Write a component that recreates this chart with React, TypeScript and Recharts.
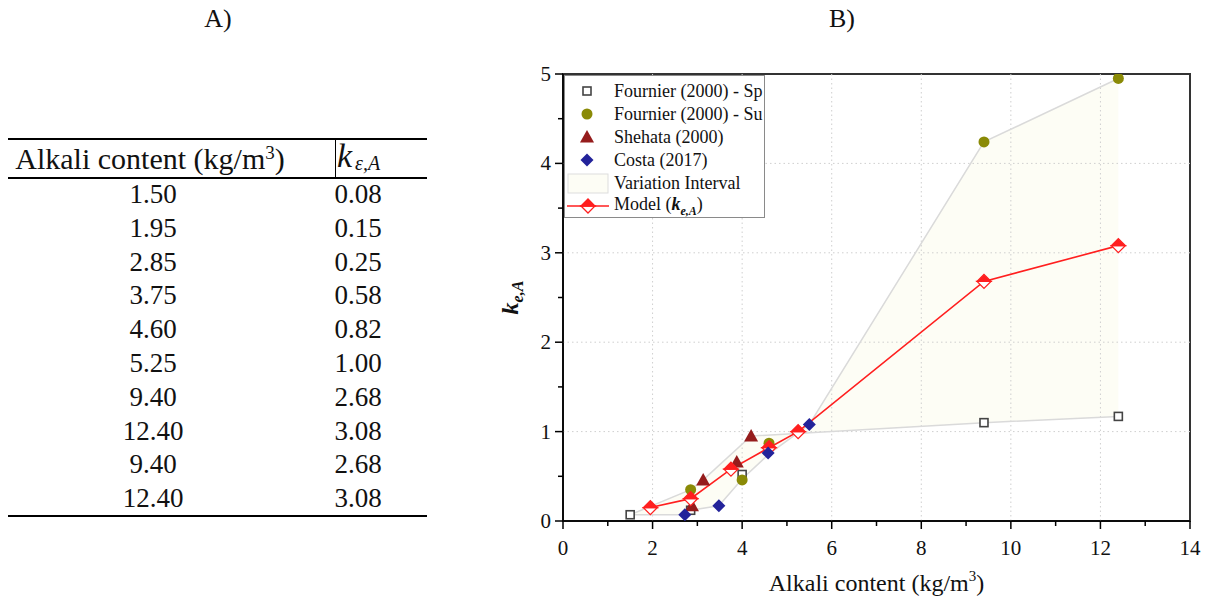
import React from "react";
import {
  ComposedChart,
  XAxis,
  YAxis,
  Line,
  Area,
  Scatter,
  ReferenceLine,
  ReferenceArea,
} from "recharts";

// ---------- Table (A) ----------
const tableAlkali = ["1.50", "1.95", "2.85", "3.75", "4.60", "5.25", "9.40", "12.40", "9.40", "12.40"];
const tableK = ["0.08", "0.15", "0.25", "0.58", "0.82", "1.00", "2.68", "3.08", "2.68", "3.08"];

// ---------- Chart (B) data ----------
const fournierSp = [
  { x: 1.5, y: 0.07 },
  { x: 2.85, y: 0.12 },
  { x: 4.0, y: 0.52 },
  { x: 9.4, y: 1.1 },
  { x: 12.4, y: 1.17 },
];
const fournierSu = [
  { x: 2.85, y: 0.35 },
  { x: 4.0, y: 0.46 },
  { x: 4.6, y: 0.87 },
  { x: 9.4, y: 4.24 },
  { x: 12.4, y: 4.95 },
];
const shehata = [
  { x: 2.88, y: 0.17 },
  { x: 3.13, y: 0.46 },
  { x: 3.88, y: 0.66 },
  { x: 4.2, y: 0.95 },
];
const costa = [
  { x: 2.72, y: 0.07 },
  { x: 3.48, y: 0.17 },
  { x: 4.58, y: 0.76 },
  { x: 5.5, y: 1.08 },
];
const model = [
  { x: 1.95, y: 0.15 },
  { x: 2.85, y: 0.25 },
  { x: 3.75, y: 0.58 },
  { x: 4.6, y: 0.82 },
  { x: 5.25, y: 1.0 },
  { x: 9.4, y: 2.68 },
  { x: 12.4, y: 3.08 },
];
// Variation interval boundaries
const boundA = [
  { x: 1.5, y: 0.07 },
  { x: 2.85, y: 0.35 },
  { x: 3.13, y: 0.46 },
  { x: 4.2, y: 0.95 },
  { x: 9.4, y: 1.1 },
  { x: 12.4, y: 1.17 },
];
const boundB = [
  { x: 1.5, y: 0.07 },
  { x: 2.72, y: 0.07 },
  { x: 2.85, y: 0.12 },
  { x: 3.48, y: 0.17 },
  { x: 4.0, y: 0.47 },
  { x: 4.6, y: 0.75 },
  { x: 5.5, y: 1.08 },
  { x: 9.4, y: 4.24 },
  { x: 12.4, y: 4.95 },
];
const xTicks = [0, 1, 2, 3, 4, 5, 6, 7, 8, 9, 10, 11, 12, 13, 14];
const yTicks = [0, 0.5, 1, 1.5, 2, 2.5, 3, 3.5, 4, 4.5, 5];
const gridX = [2, 4, 6, 8, 10, 12];
const gridY = [1, 2, 3, 4];

// closed polygon for the fill (A forward, B backward)
const intervalPolygon = [...boundA, ...[...boundB].reverse()];

const C_SP = "#444444";
const C_SU = "#8a8a06";
const C_SH = "#951c1c";
const C_CO = "#23239a";
const C_MODEL = "#ff1f1f";
const C_BOUND = "#dadada";
const C_FILL = "#fdfdf5";
const FONT = '"Liberation Serif", "Times New Roman", serif';

const SquareMark = ({ cx, cy }: any) =>
  cx == null ? null : (
    <rect x={cx - 4} y={cy - 4} width={8} height={8} fill="#fff" stroke={C_SP} strokeWidth={1.6} />
  );
const CircleMark = ({ cx, cy }: any) =>
  cx == null ? null : <circle cx={cx} cy={cy} r={5.5} fill={C_SU} />;
const TriMark = ({ cx, cy }: any) =>
  cx == null ? null : (
    <path d={`M${cx - 7},${cy + 5.5} L${cx},${cy - 7} L${cx + 7},${cy + 5.5} Z`} fill={C_SH} />
  );
const DiamondMark = ({ cx, cy }: any) =>
  cx == null ? null : (
    <path d={`M${cx - 6.5},${cy} L${cx},${cy - 6.5} L${cx + 6.5},${cy} L${cx},${cy + 6.5} Z`} fill={C_CO} />
  );
const HalfDiamond = ({ cx, cy }: any) =>
  cx == null ? null : (
    <g>
      <path d={`M${cx - 7},${cy} L${cx},${cy + 7} L${cx + 7},${cy} Z`} fill="#fff" stroke={C_MODEL} strokeWidth={1.3} />
      <path d={`M${cx - 7},${cy} L${cx},${cy - 7} L${cx + 7},${cy} Z`} fill={C_MODEL} stroke={C_MODEL} strokeWidth={1.3} />
    </g>
  );

const XTick = (props: any) => {
  const { x, y, payload } = props;
  const v = payload.value;
  const major = v % 2 === 0;
  return (
    <g>
      <line x1={x} y1={y} x2={x} y2={y + (major ? 8 : 5)} stroke="#000" strokeWidth={1.5} />
      {major && (
        <text x={x} y={y + 34} textAnchor="middle" fontSize={21} fontFamily={FONT} fill="#111">
          {v}
        </text>
      )}
    </g>
  );
};
const YTick = (props: any) => {
  const { x, y, payload } = props;
  const v = payload.value;
  const major = Number.isInteger(v);
  return (
    <g>
      <line x1={x} y1={y} x2={x - (major ? 8 : 5)} y2={y} stroke="#000" strokeWidth={1.5} />
      {major && (
        <text x={x - 12} y={y + 7} textAnchor="end" fontSize={21} fontFamily={FONT} fill="#111">
          {v}
        </text>
      )}
    </g>
  );
};

const XLabel = (props: any) => {
  const vb = props.viewBox || {};
  const cx = vb.x + vb.width / 2;
  return (
    <text x={cx} y={vb.y + 70} textAnchor="middle" fontSize={24} fontFamily={FONT} fill="#111">
      Alkali content (kg/m<tspan dy={-10} fontSize={15}>3</tspan>
      <tspan dy={10}>)</tspan>
    </text>
  );
};
const YLabel = (props: any) => {
  const vb = props.viewBox || {};
  const lx = vb.x + 38;
  const ly = vb.y + vb.height / 2;
  return (
    <text
      x={lx}
      y={ly}
      transform={`rotate(-90, ${lx}, ${ly})`}
      textAnchor="middle"
      fontSize={24}
      fontFamily={FONT}
      fontWeight="bold"
      fontStyle="italic"
      fill="#111"
    >
      k<tspan dy={5} fontSize={16}>e,A</tspan>
    </text>
  );
};

const LegendBox = () => {
  const rows: { label: React.ReactNode; mark: React.ReactNode }[] = [
    { label: "Fournier (2000) - Sp", mark: <SquareMark cx={22} cy={11} /> },
    { label: "Fournier (2000) - Su", mark: <CircleMark cx={22} cy={11} /> },
    { label: "Shehata (2000)", mark: <TriMark cx={22} cy={11} /> },
    { label: "Costa (2017)", mark: <DiamondMark cx={22} cy={11} /> },
    {
      label: "Variation Interval",
      mark: <rect x={3} y={2} width={40} height={19} fill={C_FILL} stroke="#dddddd" strokeWidth={1} />,
    },
    {
      label: (
        <span>
          Model (
          <b>
            <i>k</i>
            <sub style={{ fontSize: 12 }}>
              <i>e,A</i>
            </sub>
          </b>
          )
        </span>
      ),
      mark: (
        <g>
          <line x1={2} y1={11} x2={44} y2={11} stroke={C_MODEL} strokeWidth={1.5} />
          <HalfDiamond cx={23} cy={11} />
        </g>
      ),
    },
  ];
  return (
    <div
      style={{
        position: "absolute",
        left: 564,
        top: 75,
        width: 201,
        height: 143,
        border: "1px solid #8a8a8a",
        background: "#fff",
        boxSizing: "border-box",
        fontFamily: FONT,
        fontSize: 18,
        color: "#111",
      }}
    >
      {rows.map((r, i) => (
        <div
          key={i}
          style={{
            position: "absolute",
            left: 0,
            top: 4 + i * 23,
            height: 23,
            display: "flex",
            alignItems: "center",
            whiteSpace: "nowrap",
          }}
        >
          <svg width={48} height={23} style={{ display: "block" }}>
            {r.mark}
          </svg>
          <span style={{ marginLeft: 1 }}>{r.label}</span>
        </div>
      ))}
    </div>
  );
};

const Table = () => {
  const rowTop = 178;
  const rowH = 33.8;
  return (
    <>
      <div style={{ position: "absolute", left: 8, top: 138, width: 419, height: 2, background: "#000" }} />
      <div style={{ position: "absolute", left: 8, top: 177, width: 419, height: 2, background: "#000" }} />
      <div style={{ position: "absolute", left: 8, top: 515, width: 419, height: 2, background: "#000" }} />
      <div style={{ position: "absolute", left: 335, top: 139, width: 1, height: 39, background: "#000" }} />
      <div
        style={{
          position: "absolute",
          left: 5,
          top: 140,
          width: 290,
          height: 37,
          lineHeight: "37px",
          textAlign: "center",
          fontSize: 30,
          whiteSpace: "nowrap",
        }}
      >
        Alkali content (kg/m<sup style={{ fontSize: 19, verticalAlign: "10px", lineHeight: 0 }}>3</sup>)
      </div>
      <div
        style={{
          position: "absolute",
          left: 337,
          top: 138,
          width: 90,
          height: 39,
          whiteSpace: "nowrap",
        }}
      >
        <span style={{ position: "absolute", left: 0, top: -2, fontSize: 34, fontStyle: "italic", lineHeight: "40px" }}>
          k
        </span>
        <span style={{ position: "absolute", left: 18, top: 12, fontSize: 20, fontStyle: "italic", lineHeight: "26px" }}>
          ε,A
        </span>
      </div>
      {tableAlkali.map((a, i) => (
        <React.Fragment key={i}>
          <div
            style={{
              position: "absolute",
              left: 8,
              width: 290,
              top: rowTop + i * rowH,
              height: rowH,
              lineHeight: `${rowH}px`,
              textAlign: "center",
              fontSize: 27,
            }}
          >
            {a}
          </div>
          <div
            style={{
              position: "absolute",
              left: 318,
              width: 80,
              top: rowTop + i * rowH,
              height: rowH,
              lineHeight: `${rowH}px`,
              textAlign: "center",
              fontSize: 27,
            }}
          >
            {tableK[i]}
          </div>
        </React.Fragment>
      ))}
    </>
  );
};

export default function App() {
  return (
    <div
      style={{
        position: "fixed",
        left: 0,
        top: 0,
        width: 1208,
        height: 601,
        background: "#fff",
        fontFamily: FONT,
        color: "#111",
        overflow: "hidden",
      }}
    >
      <div style={{ position: "absolute", left: 168, width: 100, top: 4, textAlign: "center", fontSize: 26 }}>A)</div>
      <div style={{ position: "absolute", left: 792, width: 100, top: 4, textAlign: "center", fontSize: 26 }}>B)</div>
      <Table />
      <div style={{ position: "absolute", left: 0, top: 0 }}>
        <ComposedChart width={1208} height={601} margin={{ top: 74, right: 18, bottom: 5, left: 480 }}>
          <XAxis
            type="number"
            dataKey="x"
            domain={[0, 14]}
            ticks={xTicks}
            interval={0}
            tickSize={0}
            tickMargin={0}
            tick={<XTick />}
            height={75}
            axisLine={{ stroke: "#000", strokeWidth: 1.5 }}
            tickLine={false}
            allowDataOverflow
            label={<XLabel />}
          />
          <YAxis
            type="number"
            dataKey="y"
            domain={[0, 5]}
            ticks={yTicks}
            interval={0}
            tickSize={0}
            tickMargin={0}
            tick={<YTick />}
            width={83}
            axisLine={{ stroke: "#000", strokeWidth: 1.5 }}
            tickLine={false}
            allowDataOverflow
            label={<YLabel />}
          />
          <ReferenceArea x1={0} x2={14} y1={0} y2={5} fill="#fff" fillOpacity={0} stroke="#333" strokeWidth={2} />
          <Area
            data={intervalPolygon}
            dataKey="y"
            type="linear"
            stroke="none"
            fill={C_FILL}
            fillOpacity={1}
            isAnimationActive={false}
            dot={false}
            activeDot={false}
          />
          {gridX.map((g) => (
            <ReferenceLine key={`gx${g}`} x={g} stroke="#cfcfcf" strokeDasharray="1.5 3" strokeWidth={1} />
          ))}
          {gridY.map((g) => (
            <ReferenceLine key={`gy${g}`} y={g} stroke="#cfcfcf" strokeDasharray="1.5 3" strokeWidth={1} />
          ))}
          <Line data={boundA} dataKey="y" type="linear" stroke={C_BOUND} strokeWidth={1.5} dot={false} activeDot={false} isAnimationActive={false} />
          <Line data={boundB} dataKey="y" type="linear" stroke={C_BOUND} strokeWidth={1.5} dot={false} activeDot={false} isAnimationActive={false} />
          <Scatter data={fournierSp} dataKey="y" shape={<SquareMark />} isAnimationActive={false} />
          <Scatter data={fournierSu} dataKey="y" shape={<CircleMark />} isAnimationActive={false} />
          <Scatter data={shehata} dataKey="y" shape={<TriMark />} isAnimationActive={false} />
          <Line
            data={model}
            dataKey="y"
            type="linear"
            stroke={C_MODEL}
            strokeWidth={1.6}
            dot={<HalfDiamond />}
            activeDot={false}
            isAnimationActive={false}
          />
          <Scatter data={costa} dataKey="y" shape={<DiamondMark />} isAnimationActive={false} />
        </ComposedChart>
      </div>
      <LegendBox />
    </div>
  );
}
